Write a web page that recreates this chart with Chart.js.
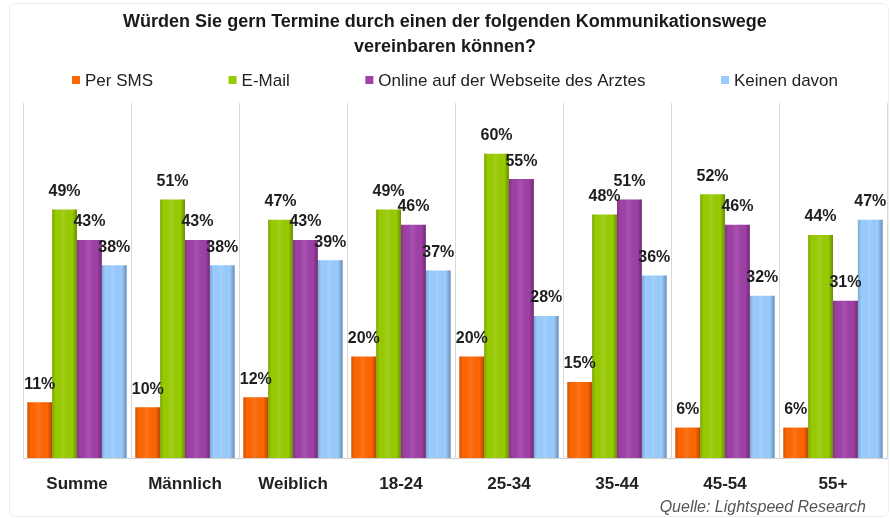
<!DOCTYPE html>
<html><head><meta charset="utf-8">
<script src="https://cdn.jsdelivr.net/npm/chart.js@4"></script>
<style>html,body{margin:0;padding:0;background:#fff}</style>
</head><body><canvas id="c" width="890" height="518"></canvas>
<script>
const titleLines = ['Würden Sie gern Termine durch einen der folgenden Kommunikationswege', 'vereinbaren können?'];
const categories = ['Summe', 'Männlich', 'Weiblich', '18-24', '25-34', '35-44', '45-54', '55+'];
const seriesNames = ['Per SMS', 'E-Mail', 'Online auf der Webseite des Arztes', 'Keinen davon'];
const perSMS = [11, 10, 12, 20, 20, 15, 6, 6];
const eMail = [49, 51, 47, 49, 60, 48, 52, 44];
const online = [43, 43, 43, 46, 55, 51, 46, 31];
const keinen = [38, 38, 39, 37, 28, 36, 32, 47];
const seriesColors = ['#FF6600', '#99CC00', '#A040A8', '#99CCFF'];
const sourceText = 'Quelle: Lightspeed Research';

const FONT = '"Liberation Sans", Arial, sans-serif';

const barDeco = {
  id: 'barDeco',
  afterDatasetsDraw(chart) {
    const ctx = chart.ctx;
    ctx.save();
    chart.data.datasets.forEach((ds, i) => {
      chart.getDatasetMeta(i).data.forEach(el => {
        const p = el.getProps(['x', 'y', 'base', 'width'], true);
        const l = p.x - p.width / 2;
        const g = ctx.createLinearGradient(l, 0, l + p.width, 0);
        g.addColorStop(0, 'rgba(0,0,0,0.18)');
        g.addColorStop(0.15, 'rgba(0,0,0,0)');
        g.addColorStop(0.45, 'rgba(255,255,255,0.10)');
        g.addColorStop(0.8, 'rgba(0,0,0,0)');
        g.addColorStop(1, 'rgba(0,0,0,0.3)');
        ctx.fillStyle = g;
        ctx.fillRect(l, p.y, p.width, p.base - p.y);
      });
    });
    ctx.font = 'bold 16px ' + FONT;
    ctx.fillStyle = '#1e1e1e';
    ctx.textAlign = 'center';
    ctx.textBaseline = 'middle';
    chart.data.datasets.forEach((ds, i) => {
      chart.getDatasetMeta(i).data.forEach((el, j) => {
        const p = el.getProps(['x', 'y'], true);
        ctx.fillText(ds.data[j] + '%', p.x, p.y - 18);
      });
    });
    ctx.restore();
  },
  afterDraw(chart) {
    const ctx = chart.ctx;
    ctx.save();
    // legend
    ctx.font = '17px ' + FONT;
    ctx.textBaseline = 'middle';
    ctx.textAlign = 'left';
    const box = 8, gapTxt = 5;
    const widths = seriesNames.map(n => box + gapTxt + ctx.measureText(n).width);
    const startX = 72, endX = 838;
    const gap = (endX - startX - widths.reduce((a, b) => a + b, 0)) / (seriesNames.length - 1);
    let x = startX;
    const ly = 80;
    seriesNames.forEach((n, i) => {
      ctx.fillStyle = seriesColors[i];
      ctx.fillRect(x, ly - box / 2, box, box);
      ctx.fillStyle = '#222';
      ctx.fillText(n, x + box + gapTxt, ly + 1);
      x += widths[i] + gap;
    });
    // source
    ctx.font = 'italic 16px ' + FONT;
    ctx.fillStyle = '#555';
    ctx.textAlign = 'right';
    ctx.fillText(sourceText, 866, 508);
    // outer frame
    ctx.strokeStyle = '#ececec';
    ctx.lineWidth = 1;
    ctx.beginPath();
    ctx.roundRect(9.5, 3.5, 879, 513, 6);
    ctx.stroke();
    ctx.restore();
  }
};

const datasetsSrc = [perSMS, eMail, online, keinen];

new Chart(document.getElementById('c'), {
  type: 'bar',
  data: {
    labels: categories,
    datasets: datasetsSrc.map((d, i) => ({
      label: seriesNames[i],
      data: d,
      backgroundColor: seriesColors[i],
      borderWidth: 0,
      categoryPercentage: 0.92,
      barPercentage: 1.0
    }))
  },
  options: {
    responsive: false,
    animation: false,
    devicePixelRatio: 1,
    layout: { padding: { left: 3, right: 3, top: 0, bottom: 0 } },
    plugins: {
      legend: { display: false },
      tooltip: { enabled: false },
      title: {
        display: true,
        text: titleLines,
        color: '#1a1a1a',
        font: { family: FONT, size: 18, weight: 'bold', lineHeight: 1.39 },
        padding: { top: 10, bottom: 43 }
      }
    },
    scales: {
      x: {
        grid: { offset: true, color: '#d9d9d9', drawTicks: false },
        border: { display: true, color: '#d0d0d0' },
        ticks: { padding: 16, color: '#222', font: { family: FONT, size: 17, weight: 'bold' } },
        afterFit(s) { s.height = 60; }
      },
      y: {
        display: true, min: 0, max: 70,
        grid: { display: false },
        border: { display: false },
        ticks: { display: false },
        afterFit(s) { s.width = 20; }
      }
    }
  },
  plugins: [barDeco]
});
</script>
</body></html>
